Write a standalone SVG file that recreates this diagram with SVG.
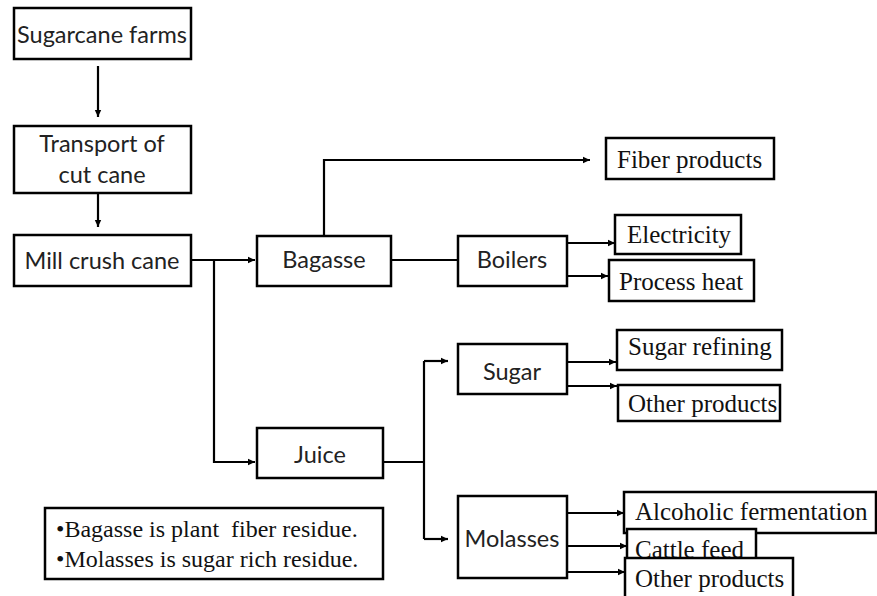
<svg xmlns="http://www.w3.org/2000/svg" width="877" height="596" viewBox="0 0 877 596">
<style>
.box{fill:#fff;stroke:#000;stroke-width:2.5}
.s{font-family:Lato,"Liberation Sans",sans-serif;font-size:23.5px;fill:#222;text-anchor:middle}
.r{font-family:"Liberation Serif",serif;font-size:25px;fill:#111}
.n{font-size:24px}
.c{fill:none;stroke:#000;stroke-width:2.2}
</style>
<defs>
<marker id="ah" markerWidth="8" markerHeight="8" refX="7" refY="4" orient="auto" markerUnits="userSpaceOnUse">
<path d="M0,0.8 L7,4 L0,7.2 Z" fill="#000"/>
</marker>
</defs>
<rect width="877" height="596" fill="#fff"/>
<g id="connectors">
<path class="c" d="M98,66 V117" marker-end="url(#ah)"/>
<path class="c" d="M98,193 V227" marker-end="url(#ah)"/>
<path class="c" d="M191,260 H255" marker-end="url(#ah)"/>
<path class="c" d="M214,260 V462 H255" marker-end="url(#ah)"/>
<path class="c" d="M324,236 V160 H590" marker-end="url(#ah)"/>
<path class="c" d="M391,260 H458"/>
<path class="c" d="M567,243 H615" marker-end="url(#ah)"/>
<path class="c" d="M567,276 H608" marker-end="url(#ah)"/>
<path class="c" d="M383,462 H424"/>
<path class="c" d="M424,361 V539"/>
<path class="c" d="M424,361 H448" marker-end="url(#ah)"/>
<path class="c" d="M424,539 H448" marker-end="url(#ah)"/>
<path class="c" d="M567,362 H616" marker-end="url(#ah)"/>
<path class="c" d="M567,386 H617" marker-end="url(#ah)"/>
<path class="c" d="M567,513 H624" marker-end="url(#ah)"/>
<path class="c" d="M567,546 H627" marker-end="url(#ah)"/>
<path class="c" d="M567,572 H625" marker-end="url(#ah)"/>
</g>
<g id="sugarcane-farms"><rect class="box" x="14" y="8" width="177" height="51"/><text class="s" x="102" y="43">Sugarcane farms</text></g>
<g id="transport"><rect class="box" x="14" y="126" width="177" height="67"/><text class="s" x="102" y="152">Transport of</text><text class="s" x="102" y="183">cut cane</text></g>
<g id="mill"><rect class="box" x="14" y="235" width="177" height="51"/><text class="s" x="102" y="269">Mill crush cane</text></g>
<g id="bagasse"><rect class="box" x="257" y="236" width="134" height="50"/><text class="s" x="324" y="268">Bagasse</text></g>
<g id="boilers"><rect class="box" x="458" y="236" width="109" height="50"/><text class="s" x="512" y="268">Boilers</text></g>
<g id="juice"><rect class="box" x="257" y="428" width="126" height="50"/><text class="s" x="320" y="463">Juice</text></g>
<g id="sugar"><rect class="box" x="458" y="344" width="109" height="50"/><text class="s" x="512" y="380">Sugar</text></g>
<g id="molasses"><rect class="box" x="458" y="496" width="109" height="82"/><text class="s" x="512" y="547">Molasses</text></g>
<g id="fiber-products"><rect class="box" x="606" y="138" width="168" height="41"/><text class="r" x="617" y="168">Fiber products</text></g>
<g id="electricity"><rect class="box" x="615" y="215" width="126" height="39"/><text class="r" x="627" y="243">Electricity</text></g>
<g id="process-heat"><rect class="box" x="609" y="260" width="145" height="41"/><text class="r" x="619" y="290">Process heat</text></g>
<g id="sugar-refining"><rect class="box" x="617" y="330" width="165" height="40"/><text class="r" x="628" y="355">Sugar refining</text></g>
<g id="other-products-1"><rect class="box" x="618" y="385" width="162" height="36"/><text class="r" x="628" y="412">Other products</text></g>
<g id="alcoholic-fermentation"><rect class="box" x="624" y="492" width="252" height="41"/><text class="r" x="635" y="520">Alcoholic fermentation</text></g>
<g id="cattle-feed"><rect class="box" x="627" y="529" width="129" height="40"/><text class="r" x="635" y="558">Cattle feed</text></g>
<g id="other-products-2"><rect class="box" x="625" y="558" width="168" height="45"/><text class="r" x="635" y="587">Other products</text></g>
<g id="note"><rect class="box" x="45" y="508" width="338" height="71"/><text class="r n" x="56" y="537" xml:space="preserve">•Bagasse is plant  fiber residue.</text><text class="r n" x="56" y="567">•Molasses is sugar rich residue.</text></g>
</svg>
